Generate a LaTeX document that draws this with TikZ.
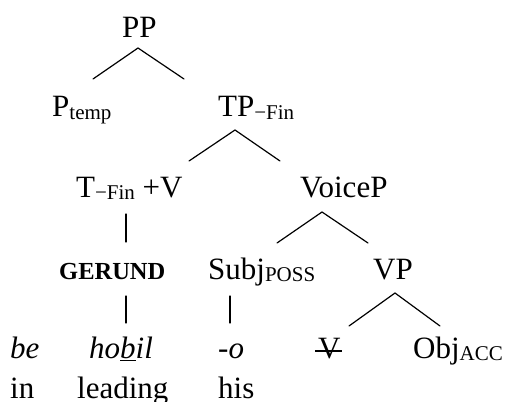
\documentclass[tikz,border=0pt]{standalone}
\usepackage{fontspec}
\setmainfont{Liberation Serif}
\newcommand{\lowsub}[1]{\raisebox{-2pt}{\fontsize{21}{21}\selectfont #1}}
\tikzset{
  lbl/.style={inner sep=0pt, anchor=base west, font=\fontsize{31}{31}\selectfont},
  branch/.style={line width=1.2pt, line cap=round},
}
\begin{document}
\begin{tikzpicture}[x=1pt,y=-1pt]
\useasboundingbox (0,0) rectangle (505,401);

% tree labels
\node[lbl] (pp)     at (122,38)  {PP};
\node[lbl] (ptemp)  at (52,117)  {P\lowsub{temp}};
\node[lbl] (tp)     at (218,117) {TP\lowsub{−Fin}};
\node[lbl] (tv)     at (76,197)  {T\lowsub{−Fin} +V};
\node[lbl] (voicep) at (300,197) {VoiceP};
\node[lbl, font=\fontsize{24.5}{24.5}\selectfont\bfseries] (gerund) at (59,279) {GERUND};
\node[lbl] (subj)   at (208,279) {Subj\lowsub{POSS}};
\node[lbl] (vp)     at (373,279) {VP};

% glossed words
\node[lbl, font=\fontsize{31}{31}\selectfont\itshape] (be)    at (10,358)  {be};
\node[lbl, font=\fontsize{31}{31}\selectfont\itshape] (hobil) at (89,358)  {ho\underline{b}il};
\node[lbl, font=\fontsize{31}{31}\selectfont\itshape] (o)     at (218,358) {-o};
\node[lbl] (v)   at (318,358) {V};
\node[lbl] (obj) at (413,358) {Obj\lowsub{ACC}};
\node[lbl] (in)      at (10,398)  {in};
\node[lbl] (leading) at (77,398)  {leading};
\node[lbl] (his)     at (218,398) {his};

% struck-out verb
\draw[line width=1.2pt] ([xshift=-3pt,yshift=7pt]v.base west) -- ([xshift=1pt,yshift=7pt]v.base east);

% branch points
\coordinate (pp-a)  at (138,48);
\coordinate (pp-l)  at (93,79);
\coordinate (pp-r)  at (184,79);
\coordinate (tp-a)  at (235,130);
\coordinate (tp-l)  at (189,161);
\coordinate (tp-r)  at (280,161);
\coordinate (tv-a)  at (126,214);
\coordinate (tv-b)  at (126,242);
\coordinate (vo-a)  at (322,212);
\coordinate (vo-l)  at (277,243);
\coordinate (vo-r)  at (368,243);
\coordinate (ge-a)  at (126,296);
\coordinate (ge-b)  at (126,323);
\coordinate (su-a)  at (230,296);
\coordinate (su-b)  at (230,323);
\coordinate (vp-a)  at (395,293);
\coordinate (vp-l)  at (349,326);
\coordinate (vp-r)  at (440,326);

% branches
\draw[branch] (pp-l) -- (pp-a) -- (pp-r);
\draw[branch] (tp-l) -- (tp-a) -- (tp-r);
\draw[branch] (tv-a) -- (tv-b);
\draw[branch] (vo-l) -- (vo-a) -- (vo-r);
\draw[branch] (ge-a) -- (ge-b);
\draw[branch] (su-a) -- (su-b);
\draw[branch] (vp-l) -- (vp-a) -- (vp-r);
\end{tikzpicture}
\end{document}
